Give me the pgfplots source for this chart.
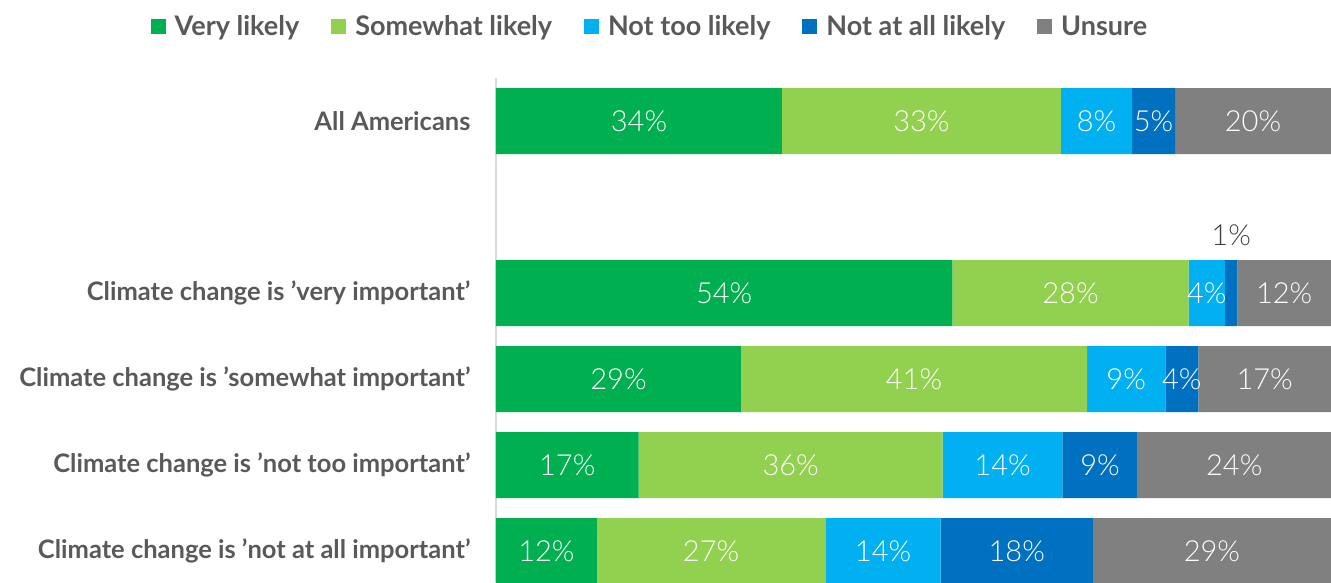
\documentclass[border=0pt]{standalone}
\usepackage{pgfplots}
\pgfplotsset{compat=1.18}
\usepackage{fontspec}
\setmainfont{Lato}
\newfontfamily\lightfont{Lato Light}
\definecolor{vl}{HTML}{00B050}
\definecolor{sl}{HTML}{92D050}
\definecolor{nt}{HTML}{00B0F0}
\definecolor{na}{HTML}{0070C0}
\definecolor{un}{HTML}{808080}
\definecolor{txt}{HTML}{595959}
\begin{document}
\begin{tikzpicture}
\path[use as bounding box] (-496pt,0pt) rectangle (835pt,582pt);
\begin{axis}[
  at={(0pt,0pt)}, anchor=south west,
  x=8.35pt, y=86pt,
  xbar stacked, bar width=66pt,
  xmin=0, xmax=100, ymin=-0.36, ymax=5.5,
  enlargelimits=false,
  axis y line=left, axis x line=none,
  y axis line style={draw=black!15, line width=2pt, -},
  ytick={0,1,2,3,5},
  yticklabels={Climate change is ’not at all important’,Climate change is ’not too important’,Climate change is ’somewhat important’,Climate change is ’very important’,All Americans},
  major tick length=0pt,
  yticklabel style={font=\bfseries\fontsize{25.5}{30}\selectfont, text=txt, xshift=-22pt},
  point meta=explicit symbolic,
  visualization depends on={ifthenelse(rawx<2,58,0) \as \ys},
  visualization depends on={ifthenelse(rawx<2,25,100) \as \wv},
  nodes near coords={\pgfplotspointmeta\%},
  every node near coord/.append style={anchor=center, yshift={\ys*1pt}, text={white!\wv!black}, font=\lightfont\fontsize{29}{32}\selectfont},
  legend columns=5,
  legend style={at={(0.1844,1.103)}, anchor=center, draw=none, fill=none,
    font=\bfseries\fontsize{27}{32}\selectfont, nodes={text=txt},
    /tikz/every even column/.append style={column sep=30pt}},
  legend image code/.code={\fill[#1] (0pt,-7.5pt) rectangle (15pt,7.5pt); \path (22pt,0pt);},
]
\addplot[fill=vl, draw=none] coordinates {(12.07,0) [12] (17.08,1) [17] (29.34,2) [29] (54.65,3) [54] (34.25,5) [34]};
\addplot[fill=sl, draw=none] coordinates {(27.38,0) [27] (36.42,1) [36] (41.44,2) [41] (28.31,3) [28] (33.41,5) [33]};
\addplot[fill=nt, draw=none] coordinates {(13.81,0) [14] (14.34,1) [14] (9.38,2) [9] (4.35,3) [4] (8.51,5) [8]};
\addplot[fill=na, draw=none] coordinates {(18.22,0) [18] (8.99,1) [9] (3.95,2) [4] (1.47,3) [1] (5.15,5) [5]};
\addplot[fill=un, draw=none] coordinates {(28.52,0) [29] (23.17,1) [24] (15.89,2) [17] (11.22,3) [12] (18.68,5) [20]};
\legend{Very likely,Somewhat likely,Not too likely,Not at all likely,Unsure}
\end{axis}
\end{tikzpicture}
\end{document}
